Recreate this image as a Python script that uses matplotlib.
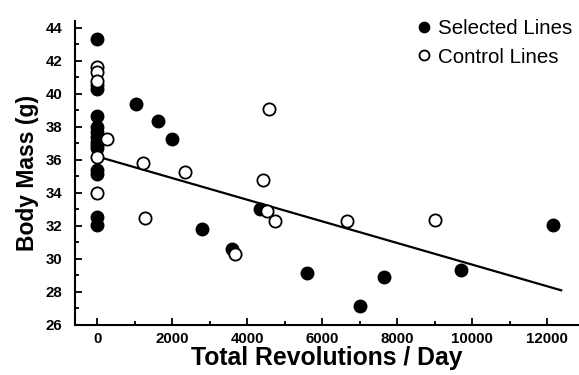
import matplotlib
matplotlib.use("Agg")
import matplotlib.pyplot as plt
from matplotlib.ticker import MultipleLocator

plt.rcParams['font.family'] = ['Liberation Sans', 'DejaVu Sans']

# Selected lines (filled)
sel_x = [0, 0, 0, 0, 0, 0, 0, 0, 0, 0, 0, 0, 0, 0,
         1040, 1630, 2000, 2800, 3580, 4350, 5600, 7010, 7650, 9710, 12160]
sel_y = [43.3, 40.5, 40.3, 38.65, 38.0, 37.7, 37.4, 37.1, 36.9, 36.7, 35.4, 35.15, 32.55, 32.05,
         39.4, 38.35, 37.25, 31.8, 30.6, 33.05, 29.15, 27.15, 28.9, 29.3, 32.05]

# Control lines (open)
ctl_x = [0, 0, 0, 0, 0, 270, 1230, 1280, 2350, 3680, 4430, 4590, 4530, 4750, 6670, 9010]
ctl_y = [41.6, 41.3, 40.75, 36.15, 34.0, 37.25, 35.8, 32.5, 35.25, 30.3, 34.75, 39.1, 32.9, 32.3, 32.3, 32.35]

# Regression line endpoints
fit_x = [0, 12370]
fit_y = [36.2, 28.1]

fig = plt.figure(figsize=(5.79, 3.75), dpi=100)
ax = fig.add_axes([75/579, 50/375, 504/579, 304/375])

ax.plot(fit_x, fit_y, color='black', lw=1.6, zorder=2)
ax.plot(sel_x, sel_y, 'o', ms=8.8, mfc='black', mec='black', mew=1.2,
        ls='none', label='Selected Lines', zorder=3)
ax.plot(ctl_x, ctl_y, 'o', ms=8.8, mfc='white', mec='black', mew=1.3,
        ls='none', label='Control Lines', zorder=4)

ax.set_xlim(-595, 12845)
ax.set_ylim(26, 44.4)
ax.xaxis.set_major_locator(MultipleLocator(2000))
ax.xaxis.set_minor_locator(MultipleLocator(1000))
ax.yaxis.set_major_locator(MultipleLocator(2))
ax.yaxis.set_minor_locator(MultipleLocator(1))
ax.tick_params(which='both', direction='in', width=1.3)
ax.tick_params(which='major', length=5, labelsize=10.8, pad=5)
ax.tick_params(which='minor', length=3)
for lab in ax.get_xticklabels() + ax.get_yticklabels():
    lab.set_fontweight('bold')
ax.tick_params(axis='y', pad=9)

for s in ['top', 'right']:
    ax.spines[s].set_visible(False)
for s in ['left', 'bottom']:
    ax.spines[s].set_linewidth(1.5)

ax.set_xlabel('Total Revolutions / Day', fontsize=17.8, fontweight='bold', labelpad=0)
ax.set_ylabel('Body Mass (g)', fontsize=16.5, fontweight='bold', labelpad=5)

leg = ax.legend(loc='upper left', bbox_to_anchor=(414/579, 1 - 19/375),
                bbox_transform=fig.transFigure, frameon=False,
                fontsize=14.8, handletextpad=0.15, labelspacing=0.47,
                markerscale=0.82, handlelength=1.0, borderaxespad=0, borderpad=0)

fig.savefig('out.png', dpi=100)
